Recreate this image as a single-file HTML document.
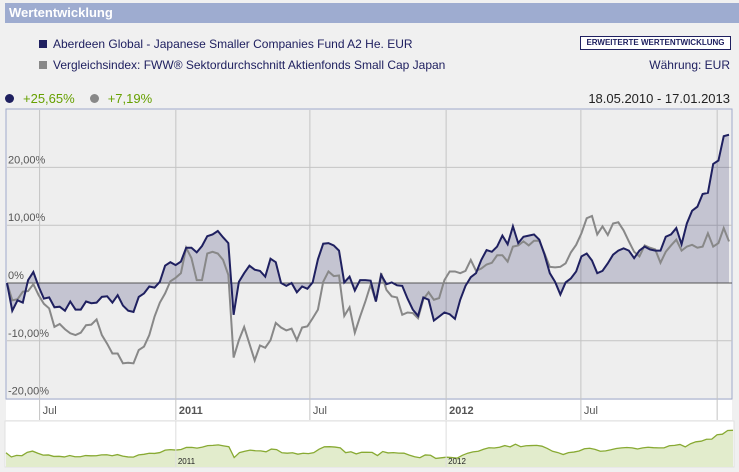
<!DOCTYPE html>
<html><head><meta charset="utf-8"><style>
body{margin:0;width:739px;height:472px;background:#f0f0f0;font-family:"Liberation Sans",sans-serif;overflow:hidden;position:relative}
.abs{position:absolute;white-space:nowrap}
</style></head><body>
<div class="abs" style="left:5px;top:3px;width:734px;height:20px;background:#9eacd0;color:#fff;font-weight:bold;font-size:13px;line-height:20px;text-indent:4px">Wertentwicklung</div>
<div class="abs" style="left:39px;top:37px;font-size:12px;color:#1f2060"><span style="display:inline-block;width:8px;height:8px;background:#1f2060;margin-right:6px"></span>Aberdeen Global - Japanese Smaller Companies Fund A2 He. EUR</div>
<div class="abs" style="left:39px;top:58px;font-size:12px;color:#1f2060"><span style="display:inline-block;width:8px;height:8px;background:#888;margin-right:6px"></span>Vergleichsindex: FWW® Sektordurchschnitt Aktienfonds Small Cap Japan</div>
<div class="abs" style="left:580px;top:36px;width:149px;height:12px;border:1px solid #1f2060;background:#fff;color:#1f2060;font-size:8px;font-weight:bold;line-height:12px;text-align:center">ERWEITERTE WERTENTWICKLUNG</div>
<div class="abs" style="right:9px;top:58px;font-size:12px;color:#1f2060">Währung: EUR</div>
<div class="abs" style="left:5px;top:91px;font-size:13px;color:#66a000"><span style="display:inline-block;width:9px;height:9px;border-radius:50%;background:#1f2060;margin-right:9px"></span>+25,65%<span style="display:inline-block;width:9px;height:9px;border-radius:50%;background:#888;margin:0 9px 0 15px"></span>+7,19%</div>
<div class="abs" style="right:9px;top:91px;font-size:13px;color:#222">18.05.2010 - 17.01.2013</div>
<svg id="chart" class="abs" style="left:0;top:0" width="739" height="472"></svg>
<script>
const tickLabels=["Jul","2011","Jul","2012","Jul",""];
const tickDays=[44,228,409,593,775,959];
const yTicks=[20,10,0,-10,-20];
const yTickLabels=["20,00%","10,00%","0%","-10,00%","-20,00%"];
const fund=[0,-4.8,-3,-3.4,0.5,1.9,-0.6,-2.7,-2.5,-4.2,-4.1,-4.8,-3.2,-4.6,-4.6,-3.2,-3.5,-3.4,-2.4,-2.3,-3.4,-2.1,-3.9,-4.8,-5.0,-2.4,-1.8,-0.6,-0.8,0.2,3.0,3.6,3.1,3.7,6.1,6.1,5.3,6.4,8.1,8.4,9.0,7.9,6.9,-5.5,0.2,1.7,3.0,2.3,2.1,1.1,4.2,3.6,0,-0.5,0,-1.6,-0.6,-1.0,0.1,4.1,6.8,6.9,6.5,5.6,0.1,1.1,-1.3,0.5,0.5,0.4,
-3.2,1.4,-0.2,0.1,-0.4,-0.5,-2.7,-4.6,-5.7,-2.5,-2.9,-6.5,-5.8,-5.1,-5.4,-6.2,-2.9,-0.5,1.0,1.7,4.0,5.7,5.4,6.3,8.2,6.7,9.8,6.9,8.0,8.2,8.4,7.5,4.9,1.7,0.2,-2.0,0.1,0.8,2.0,4.6,5.1,3.9,1.7,2.1,3.4,4.9,5.6,6.0,5.6,4.3,5.6,6.3,5.8,5.6,5.6,8.0,8.4,9.5,6.7,10.3,12.5,13.2,15.4,15.6,20.6,21.2,25.4,25.65];
const bench=[0,-3,-2.8,-1.5,-1.4,-0.2,-2.1,-3.6,-4.4,-7.6,-7.1,-8.0,-8.7,-9.0,-8.6,-7.3,-7.2,-6.3,-9.0,-10.5,-12.2,-12.2,-13.9,-13.8,-13.9,-11.6,-11.0,-9.0,-5.8,-3.4,-1.8,0.3,0.9,1.7,6.1,4.3,0.5,0.5,5.1,5.4,5.1,4.0,1.4,-12.9,-9.9,-7.6,-10.5,-13.4,-10.8,-11.2,-9.9,-6.9,-7.7,-8.2,-7.9,-9.9,-7.7,-7.5,-6.1,-4.6,0.2,2.0,1.2,1.3,-5.7,-4.2,-8.6,-5.8,-3.2,-0.3,
-3.2,1.7,-1.2,-2.3,-2.5,-5.5,-5.1,-5.2,-6.1,-2.8,-1.6,-2.9,-2.6,0.5,2.0,2.0,1.7,2.1,4.0,2.1,2.5,3.2,3.5,4.8,4.8,3.7,6.3,6.5,7.2,6.5,7.3,7.3,5.1,2.8,2.7,2.8,3.4,5.3,6.6,8.6,11.2,11.6,8.4,9.8,8.3,10.3,10.5,9.1,7.2,5.4,4.6,6.5,6.1,5.8,3.5,5.4,6.5,7.5,5.6,6.3,6.6,6.1,6.3,8.6,6.3,6.9,9.5,7.19];
const totalDays=975;
const svg=document.getElementById('chart');const NS='http://www.w3.org/2000/svg';
function mk(t,a,p){const e=document.createElementNS(NS,t);for(const k in a)e.setAttribute(k,a[k]);(p||svg).appendChild(e);return e;}
const X0=7,X1=729,PT=109,PB=399;
const dayOf=i=>i*totalDays/(fund.length-1);
const x=d=>X0+(d/totalDays)*(X1-X0);
const y=v=>283-v*5.78;
let e;
e=mk('rect',{x:6,y:PT,width:726,height:PB-PT,fill:'#eeeeee',stroke:'#a0aacc'});

e=mk('rect',{x:6,y:400,width:726,height:20,fill:'#fff'});

yTicks.forEach((t,k)=>{
 if(t!==0&&t!==-20){e=mk('line',{x1:7,x2:732,y1:y(t),y2:y(t),stroke:'#c4c4c4'});}
 e=mk('text',{x:8,y:y(t)-4,'font-size':11,fill:'#555'});e.textContent=yTickLabels[k];
 
});
tickDays.forEach((d,k)=>{
 e=mk('line',{x1:x(d),x2:x(d),y1:PT+1,y2:420,stroke:'#c4c4c4'});
 
 e=mk('text',{x:x(d)+3,y:414,'font-size':11,fill:'#555','font-weight':tickLabels[k]==='Jul'?'normal':'bold'});e.textContent=tickLabels[k];
 
});
let fp='M'+x(0)+','+y(0);fund.forEach((v,i)=>fp+='L'+x(dayOf(i))+','+y(v));fp+='L'+x(dayOf(fund.length-1))+','+y(0)+'Z';
e=mk('path',{d:fp,fill:'#1f2060','fill-opacity':0.2});

e=mk('line',{x1:7,x2:732,y1:y(0),y2:y(0),stroke:'#555'});

const lp=a=>a.map((v,i)=>(i?'L':'M')+x(dayOf(i))+','+y(v)).join('');
e=mk('path',{d:lp(bench),fill:'none',stroke:'#888',"stroke-width":2});

e=mk('path',{d:lp(fund),fill:'none',stroke:'#1f2060',"stroke-width":2});

// navigator
const NT=421,NB=467;
e=mk('rect',{x:5,y:NT,width:729,height:NB-NT,fill:'#fff',stroke:'#e0e0e0'});

const ny=v=>458-(v+6)*(28/32);
const nx=d=>6+(d/totalDays)*727;
let np='M'+nx(0)+','+NB;fund.forEach((v,i)=>np+='L'+nx(dayOf(i))+','+ny(v));np+='L'+nx(totalDays)+','+NB+'Z';
e=mk('path',{d:np,fill:'#e2eccc'});

e=mk('path',{d:fund.map((v,i)=>(i?'L':'M')+nx(dayOf(i))+','+ny(v)).join(''),fill:'none',stroke:'#88aa33','stroke-width':1.3});

[1,3].forEach(k=>{
 e=mk('line',{x1:x(tickDays[k]),x2:x(tickDays[k]),y1:NT,y2:NB,stroke:'#ddd'});
 
 e=mk('text',{x:x(tickDays[k])+2,y:464,'font-size':8,fill:'#222'});e.textContent=tickLabels[k];
 
});
</script>
</body></html>
